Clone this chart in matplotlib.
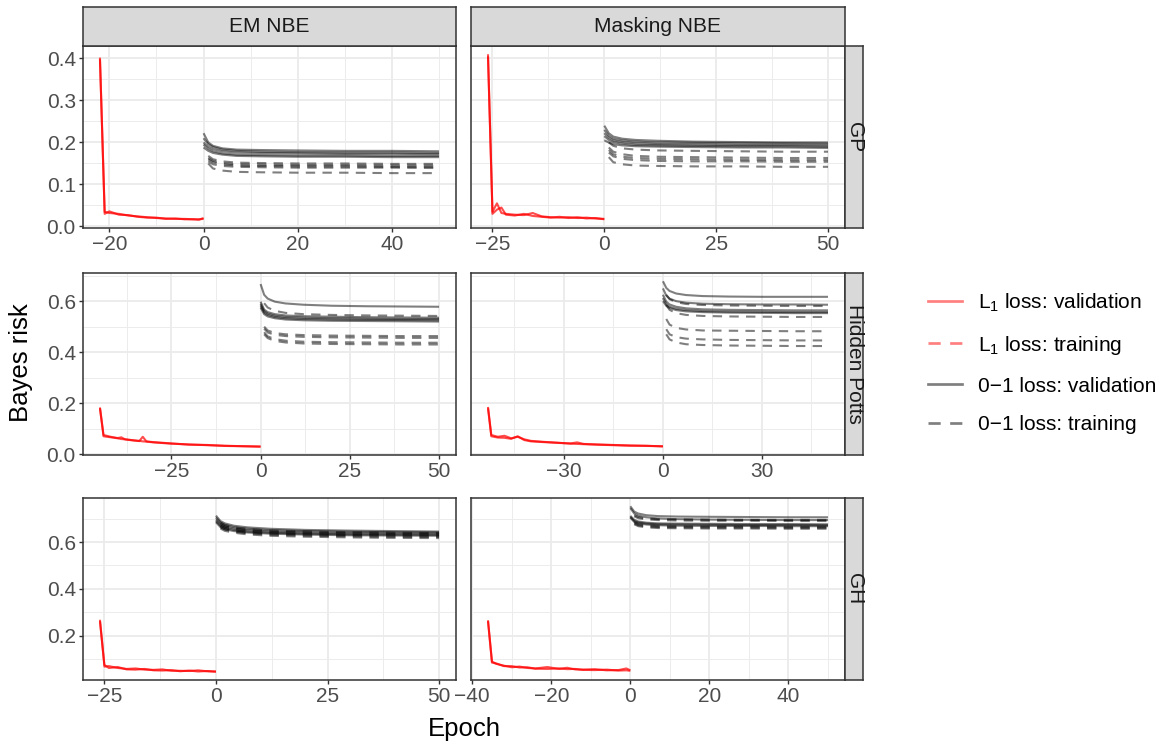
import numpy as np
import matplotlib
matplotlib.use("Agg")
import matplotlib.pyplot as plt
from matplotlib.lines import Line2D

plt.rcParams['font.family'] = ['Liberation Sans', 'DejaVu Sans']
plt.rcParams['mathtext.fontset'] = 'custom'
plt.rcParams['mathtext.rm'] = 'Liberation Sans'
plt.rcParams['mathtext.it'] = 'Liberation Sans:italic'

# ---------------- data ----------------
methods = ["EM NBE", "Masking NBE"]
models = ["GP", "Hidden Potts", "GH"]

epochs_val = [0, 1, 2, 4, 7, 12, 20, 30, 40, 50]
epochs_trn = [1, 2, 4, 7, 12, 20, 30, 40, 50]

# L1 loss (pre-training stage, negative epochs), two runs each
l1_ep_gp_em = [-22, -21, -20, -18, -16, -14, -12, -10, -8, -6, -4, -2, -1, 0]
l1_gp_em = [
    [0.402, 0.035, 0.032, 0.030, 0.026, 0.024, 0.022, 0.020, 0.019, 0.018, 0.018, 0.017, 0.017, 0.018],
    [0.398, 0.030, 0.036, 0.028, 0.027, 0.023, 0.021, 0.021, 0.018, 0.019, 0.017, 0.017, 0.016, 0.020],
]
l1_ep_gp_mask = [-26, -25, -24, -23, -22, -20, -18, -16, -14, -12, -10, -8, -6, -4, -2, 0]
l1_gp_mask = [
    [0.410, 0.035, 0.055, 0.032, 0.030, 0.028, 0.027, 0.032, 0.024, 0.022, 0.021, 0.022, 0.020, 0.021, 0.019, 0.018],
    [0.405, 0.030, 0.040, 0.045, 0.028, 0.026, 0.030, 0.025, 0.023, 0.021, 0.023, 0.020, 0.022, 0.019, 0.020, 0.017],
]
l1_ep_potts_em = [-45, -44, -42, -40, -39, -38, -36, -34, -33, -32, -30, -28, -25, -20, -15, -10, -5, 0]
l1_potts_em = [
    [0.183, 0.075, 0.068, 0.063, 0.066, 0.058, 0.055, 0.052, 0.050, 0.049, 0.046, 0.044, 0.041, 0.038, 0.035, 0.033, 0.031, 0.030],
    [0.180, 0.070, 0.066, 0.062, 0.059, 0.058, 0.054, 0.051, 0.068, 0.050, 0.047, 0.045, 0.042, 0.037, 0.036, 0.032, 0.031, 0.029],
]
l1_ep_potts_mask = [-53, -52, -50, -48, -46, -44, -42, -40, -36, -32, -28, -26, -24, -20, -15, -10, -5, 0]
l1_potts_mask = [
    [0.185, 0.075, 0.068, 0.072, 0.062, 0.068, 0.058, 0.052, 0.048, 0.044, 0.042, 0.046, 0.040, 0.038, 0.036, 0.034, 0.032, 0.031],
    [0.180, 0.070, 0.065, 0.064, 0.060, 0.070, 0.055, 0.050, 0.047, 0.045, 0.041, 0.040, 0.039, 0.037, 0.035, 0.033, 0.033, 0.030],
]
l1_ep_gh_em = [-26, -25, -24, -22, -20, -18, -16, -14, -12, -10, -8, -6, -4, -2, 0]
l1_gh_em = [
    [0.268, 0.068, 0.070, 0.062, 0.058, 0.060, 0.055, 0.054, 0.056, 0.050, 0.050, 0.049, 0.052, 0.048, 0.046],
    [0.262, 0.075, 0.062, 0.066, 0.056, 0.055, 0.058, 0.052, 0.051, 0.053, 0.048, 0.051, 0.047, 0.049, 0.047],
]
l1_ep_gh_mask = [-36, -35, -34, -32, -30, -28, -26, -24, -21, -18, -16, -14, -12, -9, -6, -3, -1, 0]
l1_gh_mask = [
    [0.266, 0.090, 0.080, 0.072, 0.065, 0.068, 0.062, 0.060, 0.066, 0.058, 0.063, 0.056, 0.055, 0.057, 0.052, 0.053, 0.060, 0.052],
    [0.262, 0.085, 0.082, 0.070, 0.070, 0.064, 0.065, 0.059, 0.058, 0.060, 0.057, 0.058, 0.054, 0.053, 0.055, 0.051, 0.052, 0.050],
]

# 0-1 loss (fine-tuning stage), five runs each: validation / training
zo_val_gp_em = [
    [0.222, 0.200, 0.192, 0.186, 0.183, 0.182, 0.181, 0.180, 0.180, 0.179],
    [0.210, 0.196, 0.189, 0.183, 0.180, 0.178, 0.177, 0.176, 0.176, 0.175],
    [0.200, 0.190, 0.184, 0.179, 0.176, 0.175, 0.174, 0.173, 0.173, 0.172],
    [0.195, 0.185, 0.179, 0.174, 0.171, 0.170, 0.169, 0.169, 0.168, 0.168],
    [0.188, 0.180, 0.175, 0.171, 0.168, 0.167, 0.166, 0.166, 0.165, 0.165],
]
zo_trn_gp_em = [
    [0.168, 0.160, 0.155, 0.152, 0.151, 0.150, 0.150, 0.149, 0.149],
    [0.163, 0.156, 0.151, 0.148, 0.147, 0.146, 0.146, 0.145, 0.145],
    [0.160, 0.153, 0.148, 0.145, 0.144, 0.143, 0.143, 0.142, 0.142],
    [0.155, 0.148, 0.144, 0.142, 0.141, 0.140, 0.140, 0.140, 0.139],
    [0.150, 0.138, 0.133, 0.130, 0.129, 0.128, 0.128, 0.127, 0.127],
]
zo_val_gp_mask = [
    [0.240, 0.222, 0.214, 0.209, 0.206, 0.204, 0.202, 0.201, 0.200, 0.200],
    [0.230, 0.216, 0.209, 0.205, 0.202, 0.200, 0.199, 0.198, 0.198, 0.197],
    [0.222, 0.211, 0.205, 0.201, 0.198, 0.196, 0.195, 0.194, 0.194, 0.193],
    [0.215, 0.206, 0.201, 0.197, 0.194, 0.193, 0.192, 0.191, 0.191, 0.190],
    [0.205, 0.200, 0.196, 0.193, 0.191, 0.190, 0.189, 0.188, 0.188, 0.187],
]
zo_trn_gp_mask = [
    [0.200, 0.192, 0.186, 0.183, 0.181, 0.180, 0.179, 0.178, 0.178],
    [0.188, 0.178, 0.172, 0.168, 0.166, 0.165, 0.164, 0.163, 0.163],
    [0.182, 0.172, 0.166, 0.163, 0.161, 0.160, 0.159, 0.158, 0.158],
    [0.176, 0.167, 0.161, 0.158, 0.156, 0.155, 0.155, 0.154, 0.154],
    [0.165, 0.153, 0.148, 0.145, 0.144, 0.143, 0.143, 0.142, 0.142],
]
zo_val_potts_em = [
    [0.667, 0.625, 0.610, 0.598, 0.591, 0.586, 0.582, 0.580, 0.579, 0.578],
    [0.598, 0.567, 0.557, 0.549, 0.544, 0.541, 0.539, 0.537, 0.536, 0.535],
    [0.590, 0.561, 0.551, 0.543, 0.538, 0.535, 0.533, 0.531, 0.530, 0.530],
    [0.583, 0.555, 0.546, 0.538, 0.533, 0.530, 0.528, 0.527, 0.526, 0.525],
    [0.575, 0.549, 0.540, 0.533, 0.528, 0.525, 0.523, 0.522, 0.521, 0.520],
]
zo_trn_potts_em = [
    [0.592, 0.575, 0.562, 0.554, 0.549, 0.546, 0.544, 0.543, 0.542],
    [0.500, 0.485, 0.475, 0.470, 0.467, 0.465, 0.464, 0.463, 0.463],
    [0.492, 0.477, 0.468, 0.463, 0.460, 0.458, 0.457, 0.456, 0.456],
    [0.478, 0.462, 0.451, 0.445, 0.441, 0.439, 0.438, 0.437, 0.437],
    [0.470, 0.455, 0.444, 0.438, 0.434, 0.432, 0.431, 0.430, 0.430],
]
zo_val_potts_mask = [
    [0.678, 0.652, 0.640, 0.630, 0.624, 0.620, 0.618, 0.617, 0.617, 0.617],
    [0.650, 0.622, 0.610, 0.600, 0.594, 0.590, 0.588, 0.587, 0.587, 0.586],
    [0.625, 0.598, 0.587, 0.578, 0.572, 0.568, 0.566, 0.565, 0.564, 0.564],
    [0.612, 0.588, 0.578, 0.570, 0.565, 0.561, 0.559, 0.558, 0.557, 0.557],
    [0.600, 0.582, 0.573, 0.565, 0.560, 0.557, 0.555, 0.554, 0.553, 0.553],
]
zo_trn_potts_mask = [
    [0.625, 0.608, 0.596, 0.589, 0.585, 0.583, 0.582, 0.581, 0.581],
    [0.585, 0.566, 0.553, 0.546, 0.542, 0.540, 0.539, 0.538, 0.538],
    [0.530, 0.508, 0.495, 0.489, 0.485, 0.484, 0.483, 0.482, 0.482],
    [0.490, 0.470, 0.459, 0.453, 0.450, 0.448, 0.447, 0.446, 0.446],
    [0.470, 0.450, 0.438, 0.431, 0.428, 0.426, 0.425, 0.424, 0.424],
]
zo_val_gh_em = [
    [0.713, 0.690, 0.680, 0.670, 0.663, 0.657, 0.652, 0.649, 0.647, 0.645],
    [0.705, 0.684, 0.674, 0.664, 0.657, 0.651, 0.647, 0.644, 0.642, 0.641],
    [0.697, 0.677, 0.667, 0.658, 0.651, 0.645, 0.641, 0.638, 0.637, 0.636],
    [0.690, 0.670, 0.661, 0.652, 0.645, 0.640, 0.636, 0.633, 0.632, 0.631],
    [0.685, 0.664, 0.655, 0.647, 0.641, 0.636, 0.632, 0.629, 0.628, 0.627],
]
zo_trn_gh_em = [
    [0.683, 0.672, 0.662, 0.655, 0.649, 0.645, 0.642, 0.640, 0.639],
    [0.676, 0.666, 0.656, 0.649, 0.643, 0.639, 0.636, 0.634, 0.633],
    [0.670, 0.660, 0.650, 0.643, 0.637, 0.633, 0.630, 0.628, 0.627],
    [0.664, 0.654, 0.645, 0.638, 0.632, 0.628, 0.625, 0.623, 0.622],
    [0.658, 0.648, 0.640, 0.633, 0.627, 0.623, 0.620, 0.618, 0.617],
]
zo_val_gh_mask = [
    [0.753, 0.730, 0.722, 0.715, 0.711, 0.709, 0.708, 0.707, 0.706, 0.706],
    [0.745, 0.722, 0.713, 0.706, 0.701, 0.698, 0.696, 0.695, 0.694, 0.694],
    [0.712, 0.695, 0.688, 0.683, 0.680, 0.679, 0.678, 0.677, 0.677, 0.676],
    [0.708, 0.690, 0.684, 0.679, 0.676, 0.675, 0.674, 0.673, 0.673, 0.672],
    [0.704, 0.686, 0.680, 0.675, 0.672, 0.670, 0.669, 0.669, 0.668, 0.668],
]
zo_trn_gh_mask = [
    [0.715, 0.707, 0.701, 0.698, 0.697, 0.696, 0.695, 0.695, 0.695],
    [0.710, 0.702, 0.697, 0.694, 0.692, 0.691, 0.691, 0.690, 0.690],
    [0.685, 0.676, 0.671, 0.668, 0.667, 0.666, 0.666, 0.665, 0.665],
    [0.680, 0.672, 0.667, 0.664, 0.663, 0.662, 0.662, 0.661, 0.661],
    [0.676, 0.668, 0.663, 0.660, 0.659, 0.658, 0.658, 0.657, 0.657],
]

# tick breaks
xticks_gp_em = [-20, 0, 20, 40]
xticks_gp_mask = [-25, 0, 25, 50]
xticks_potts_em = [-25, 0, 25, 50]
xticks_potts_mask = [-30, 0, 30]
xticks_gh_em = [-25, 0, 25, 50]
xticks_gh_mask = [-40, -20, 0, 20, 40]
yticks_gp = [0.0, 0.1, 0.2, 0.3, 0.4]
yticks_potts = [0.0, 0.2, 0.4, 0.6]
yticks_gh = [0.2, 0.4, 0.6]

legend_labels = ["L$_1$ loss: validation", "L$_1$ loss: training",
                 "0\u22121 loss: validation", "0\u22121 loss: training"]

panels = {
    (0, 0): (l1_ep_gp_em, l1_gp_em, zo_val_gp_em, zo_trn_gp_em, xticks_gp_em),
    (0, 1): (l1_ep_gp_mask, l1_gp_mask, zo_val_gp_mask, zo_trn_gp_mask, xticks_gp_mask),
    (1, 0): (l1_ep_potts_em, l1_potts_em, zo_val_potts_em, zo_trn_potts_em, xticks_potts_em),
    (1, 1): (l1_ep_potts_mask, l1_potts_mask, zo_val_potts_mask, zo_trn_potts_mask, xticks_potts_mask),
    (2, 0): (l1_ep_gh_em, l1_gh_em, zo_val_gh_em, zo_trn_gh_em, xticks_gh_em),
    (2, 1): (l1_ep_gh_mask, l1_gh_mask, zo_val_gh_mask, zo_trn_gh_mask, xticks_gh_mask),
}
row_yticks = [yticks_gp, yticks_potts, yticks_gh]

# ---------------- layout ----------------
W, H = 1167, 745
fig = plt.figure(figsize=(W / 100, H / 100), dpi=100)

col_x = [(83, 456), (471, 845)]
row_y = [(46, 228), (273, 455), (498, 680)]
strip_top = 7
strip_right = (845, 863)

def rect(x0, x1, y0, y1):
    return [x0 / W, 1 - y1 / H, (x1 - x0) / W, (y1 - y0) / H]

BORDER = '#333333'
GRID = '#EBEBEB'
TXT = '#4D4D4D'
LW = 1.5
DASH = (0, (4.5, 3.5))
SMALL = 15
BIG = 18.5

def minor_of(ticks):
    t = np.asarray(ticks, float)
    step = t[1] - t[0]
    ext = np.concatenate([[t[0] - step], t, [t[-1] + step]])
    return list((ext[:-1] + ext[1:]) / 2)

def expand(lo, hi, f=0.05):
    r = hi - lo
    return lo - f * r, hi + f * r

# y limits per row (shared)
row_ylim = []
for r in range(3):
    vals = []
    for c in range(2):
        ep, l1, zv, zt, _ = panels[(r, c)]
        for s in l1 + zv + zt:
            vals.extend(s)
    row_ylim.append(expand(min(vals), max(vals)))

for (r, c), (ep, l1, zv, zt, xt) in panels.items():
    x0, x1 = col_x[c]
    y0, y1 = row_y[r]
    ax = fig.add_axes(rect(x0, x1, y0, y1))
    ax.set_facecolor('white')
    ax.set_axisbelow(True)
    for s in l1:
        ax.plot(ep, s, color='red', alpha=0.7, lw=LW, solid_capstyle='butt')
    for s in zv:
        ax.plot(epochs_val, s, color='black', alpha=0.5, lw=LW, solid_capstyle='butt')
    for s in zt:
        ax.plot(epochs_trn, s, color='black', alpha=0.5, lw=LW, linestyle=DASH)
    ax.set_xticks(xt)
    ax.set_xticklabels([f"{v:g}".replace('-', '\u2212') for v in xt])
    ax.set_xticks(minor_of(xt), minor=True)
    yt = row_yticks[r]
    ax.set_yticks(yt)
    ax.set_yticks(minor_of(yt), minor=True)
    if c == 0:
        ax.set_yticklabels([f"{v:.1f}" for v in yt])
    else:
        ax.set_yticklabels([])
    xs = list(ep) + epochs_val
    ax.set_xlim(*expand(min(xs), max(xs)))
    ax.set_ylim(*row_ylim[r])
    ax.grid(which='major', color=GRID, lw=1.3)
    ax.grid(which='minor', color=GRID, lw=0.65)
    ax.tick_params(which='minor', length=0)
    ax.tick_params(which='major', length=3.2, width=1.0, color=BORDER,
                   labelsize=SMALL, labelcolor=TXT, pad=2.0)
    if c == 1:
        ax.tick_params(axis='y', which='major', length=0)
    for sp in ax.spines.values():
        sp.set_color(BORDER)
        sp.set_linewidth(1.1)

    # top strips
    if r == 0:
        sax = fig.add_axes(rect(x0, x1, strip_top, y0))
        sax.set_facecolor('#D9D9D9')
        sax.set_xticks([]); sax.set_yticks([])
        for sp in sax.spines.values():
            sp.set_color(BORDER); sp.set_linewidth(1.1)
        sax.text(0.5, 0.5, methods[c], ha='center', va='center',
                 fontsize=SMALL, color='#1A1A1A', transform=sax.transAxes)
    # right strips
    if c == 1:
        sax = fig.add_axes(rect(strip_right[0], strip_right[1], y0, y1))
        sax.set_facecolor('#D9D9D9')
        sax.set_xticks([]); sax.set_yticks([])
        for sp in sax.spines.values():
            sp.set_color(BORDER); sp.set_linewidth(1.1)
        sax.text(0.55, 0.5, models[r], ha='center', va='center', rotation=-90,
                 fontsize=SMALL, color='#1A1A1A', transform=sax.transAxes)

# axis titles
fig.text(21 / W, 1 - 363 / H, "Bayes risk", rotation=90, ha='center', va='center',
         fontsize=BIG, color='black')
fig.text(464 / W, 1 - 729 / H, "Epoch", ha='center', va='center',
         fontsize=BIG, color='black')

# legend
handles = [
    Line2D([], [], color='red', alpha=0.5, lw=LW * 1.3),
    Line2D([], [], color='red', alpha=0.5, lw=LW * 1.3, linestyle=DASH),
    Line2D([], [], color='black', alpha=0.5, lw=LW * 1.3),
    Line2D([], [], color='black', alpha=0.5, lw=LW * 1.3, linestyle=DASH),
]
leg = fig.legend(handles, legend_labels, loc='center left',
                 bbox_to_anchor=(920 / W, 1 - 363 / H), frameon=False,
                 fontsize=SMALL, handlelength=1.6, handletextpad=0.8,
                 labelspacing=0.95, borderaxespad=0)

fig.savefig("out.png", dpi=100)
